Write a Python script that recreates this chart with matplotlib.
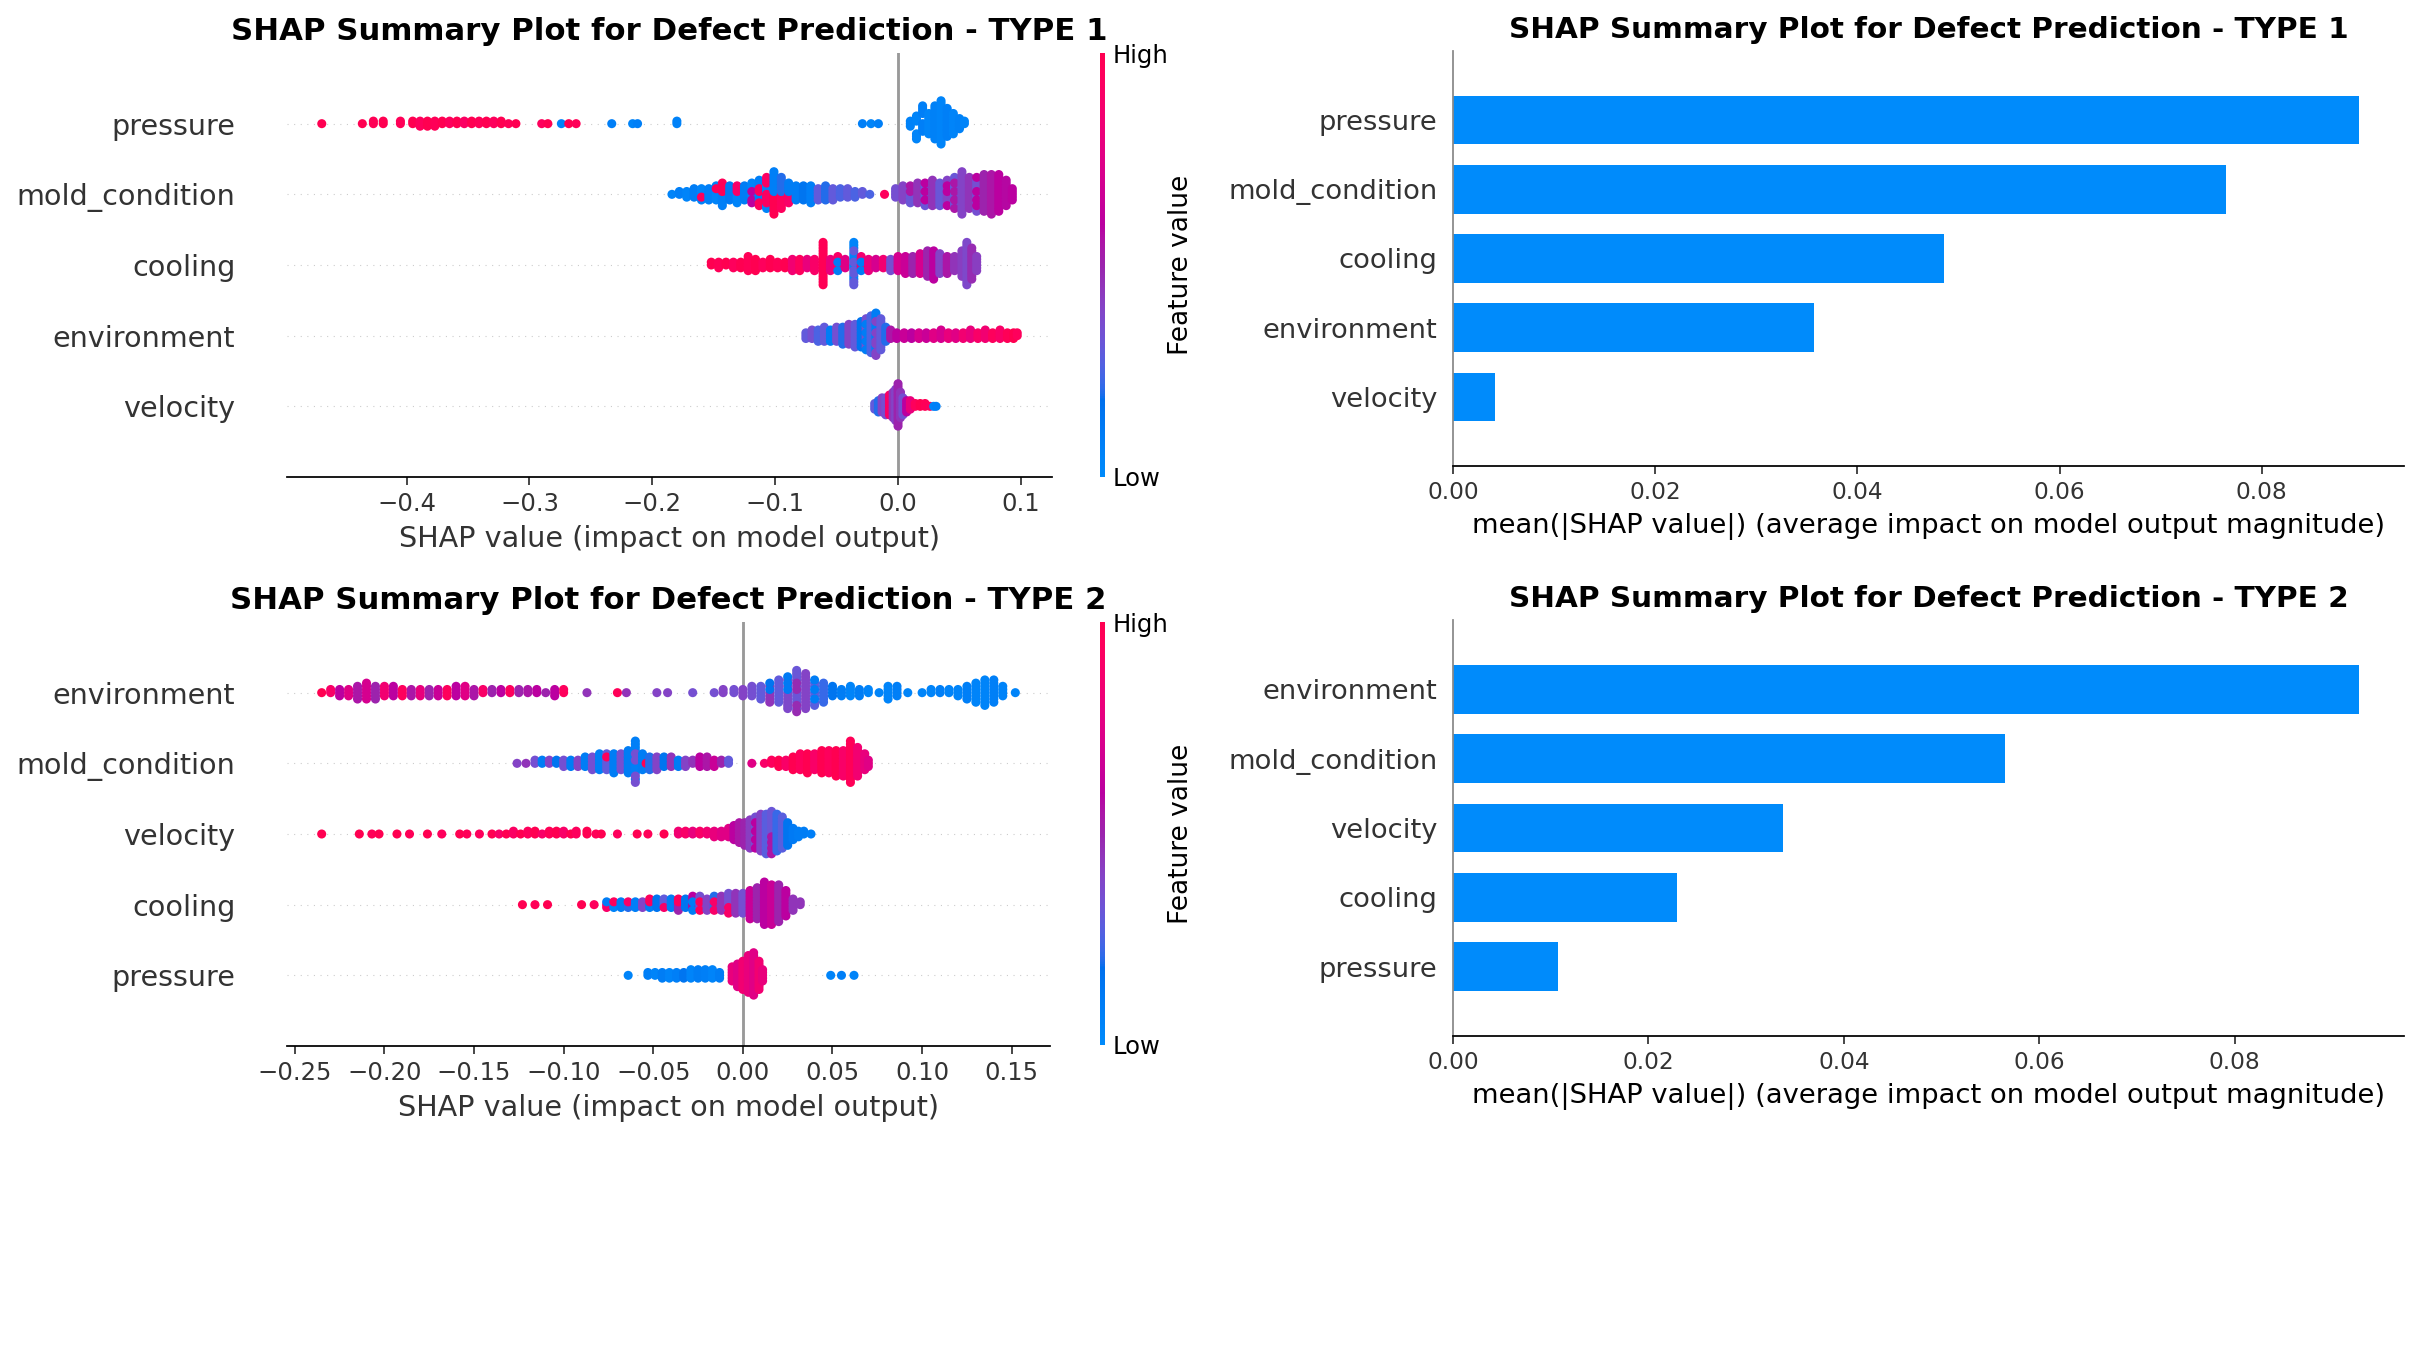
import numpy as np
import matplotlib
matplotlib.use("Agg")
import matplotlib.pyplot as plt
from matplotlib.colors import LinearSegmentedColormap, Normalize
from matplotlib.cm import ScalarMappable

# ---------------- data ----------------
# beeswarm rows: (shap value, number of samples, feature value 0=low..1=high)
t1_features = ["pressure", "mold_condition", "cooling", "environment", "velocity"]
t2_features = ["environment", "mold_condition", "velocity", "cooling", "pressure"]

t1_pressure = [(-0.469,1,1.0),(-0.436,1,1.0),(-0.427,2,0.98),(-0.419,2,1.0),(-0.405,2,0.97),
    (-0.395,2,1.0),(-0.389,3,0.95),(-0.383,3,1.0),(-0.377,3,0.97),(-0.371,2,1.0),
    (-0.365,2,0.95),(-0.359,2,1.0),(-0.353,2,0.92),(-0.347,2,1.0),(-0.341,2,0.97),
    (-0.335,2,1.0),(-0.329,2,0.95),(-0.323,2,1.0),(-0.317,1,0.97),(-0.311,1,1.0),
    (-0.290,1,0.95),(-0.285,1,1.0),(-0.274,1,0.05),(-0.268,1,1.0),(-0.262,1,0.97),
    (-0.233,1,0.08),(-0.216,1,0.05),(-0.212,1,0.08),(-0.180,2,0.06),
    (-0.029,1,0.08),(-0.022,1,0.05),(-0.016,1,0.08),
    (0.010,3,0.06),(0.015,6,0.05),(0.020,8,0.08),(0.025,9,0.04),(0.030,14,0.07),
    (0.035,18,0.05),(0.040,12,0.08),(0.045,9,0.05),(0.050,5,0.07),(0.054,2,0.05)]
t1_mold = [(-0.184,1,0.05),(-0.178,2,0.08),(-0.172,3,0.05),(-0.166,4,0.1),(-0.160,4,0.05),
    (-0.160,1,0.95),(-0.154,5,0.08),(-0.148,5,0.05),(-0.148,1,0.97),(-0.143,5,0.08),
    (-0.143,4,0.97),(-0.137,6,0.12),(-0.131,4,0.05),(-0.131,3,0.9),(-0.125,6,0.1),
    (-0.119,5,0.05),(-0.119,3,0.6),(-0.113,6,0.08),(-0.113,4,0.95),(-0.107,5,0.05),
    (-0.107,7,0.92),(-0.101,8,1.0),(-0.101,8,0.08),(-0.095,6,0.95),(-0.095,6,0.2),
    (-0.089,4,0.9),(-0.089,4,0.1),(-0.083,6,0.1),(-0.077,6,0.15),(-0.071,7,0.08),
    (-0.065,5,0.3),(-0.059,6,0.2),(-0.053,5,0.3),(-0.047,4,0.25),(-0.041,4,0.3),
    (-0.035,3,0.25),(-0.029,2,0.3),(-0.023,1,0.25),(-0.011,1,0.95),
    (-0.002,4,0.35),(0.004,6,0.4),(0.010,5,0.32),(0.010,2,0.55),(0.016,8,0.45),
    (0.022,6,0.32),(0.022,3,0.6),(0.028,10,0.45),(0.034,9,0.32),(0.040,7,0.4),
    (0.040,3,0.6),(0.046,8,0.32),(0.046,4,0.55),(0.052,16,0.4),(0.058,12,0.45),
    (0.064,9,0.35),(0.064,4,0.6),(0.070,14,0.5),(0.076,15,0.55),(0.082,14,0.6),
    (0.088,10,0.58),(0.093,5,0.6)]
t1_cooling = [(-0.152,2,1.0),(-0.146,3,0.97),(-0.140,2,1.0),(-0.134,3,0.95),(-0.128,3,1.0),
    (-0.122,6,0.97),(-0.116,5,1.0),(-0.110,3,0.95),(-0.104,4,1.0),(-0.098,3,0.97),
    (-0.092,3,1.0),(-0.086,5,0.85),(-0.080,5,0.95),(-0.074,4,0.8),(-0.068,5,0.9),
    (-0.061,16,0.98),(-0.055,5,0.8),(-0.049,4,0.9),(-0.049,2,0.1),(-0.043,4,0.75),
    (-0.036,10,0.05),(-0.036,6,0.3),(-0.030,4,0.85),(-0.030,2,0.1),(-0.024,5,0.8),
    (-0.018,4,0.7),(-0.012,4,0.85),(-0.006,5,0.35),(0.0,6,0.7),(0.006,7,0.65),
    (0.012,7,0.5),(0.018,8,0.7),(0.024,10,0.5),(0.029,11,0.6),(0.034,8,0.4),
    (0.040,7,0.55),(0.046,6,0.45),(0.052,10,0.42),(0.056,16,0.38),(0.060,12,0.48),
    (0.064,6,0.42)]
t1_environment = [(-0.075,3,0.3),(-0.070,4,0.35),(-0.065,5,0.25),(-0.060,6,0.3),(-0.055,5,0.1),
    (-0.050,6,0.35),(-0.045,7,0.2),(-0.040,8,0.4),(-0.035,9,0.3),(-0.030,10,0.15),
    (-0.026,8,0.35),(-0.026,4,0.1),(-0.022,14,0.25),(-0.018,10,0.1),(-0.018,6,0.4),
    (-0.014,12,0.3),(-0.010,6,0.2),(-0.006,4,0.55),(-0.001,3,0.6),(0.005,3,0.65),
    (0.011,3,0.6),(0.017,3,0.7),(0.023,3,0.65),(0.029,3,0.75),(0.035,4,0.7),
    (0.041,3,0.8),(0.047,3,0.75),(0.053,3,0.85),(0.059,4,0.8),(0.065,3,0.9),
    (0.071,4,0.85),(0.077,3,0.95),(0.083,4,0.9),(0.089,3,0.97),(0.094,3,1.0),
    (0.097,2,0.95)]
t1_velocity = [(-0.019,3,0.3),(-0.016,5,0.2),(-0.013,6,0.4),(-0.010,7,0.35),(-0.007,8,0.9),
    (-0.004,10,0.45),(-0.002,12,0.4),(0.0,16,0.5),(0.002,10,0.45),(0.004,7,0.35),
    (0.007,5,0.6),(0.010,4,0.8),(0.014,2,0.95),(0.018,2,1.0),(0.022,2,0.97),
    (0.026,1,0.95),(0.029,1,0.05),(0.031,1,0.08)]

t2_environment = [(-0.235,1,1.0),(-0.230,2,0.9),(-0.225,3,0.6),(-0.220,3,0.75),(-0.215,5,0.55),
    (-0.210,6,0.7),(-0.205,5,0.5),(-0.200,4,0.85),(-0.195,4,0.6),(-0.190,3,0.95),
    (-0.185,3,0.55),(-0.180,3,0.8),(-0.175,3,0.5),(-0.170,3,0.65),(-0.165,3,0.95),
    (-0.160,4,0.6),(-0.155,4,0.75),(-0.150,3,0.55),(-0.145,2,0.9),(-0.140,2,0.5),
    (-0.135,2,0.6),(-0.130,2,0.95),(-0.125,2,0.5),(-0.120,2,0.55),(-0.115,2,0.6),
    (-0.110,1,0.5),(-0.105,3,0.6),(-0.100,2,0.95),(-0.087,1,0.45),(-0.070,1,0.97),
    (-0.065,1,0.45),(-0.048,1,0.4),(-0.042,1,0.4),(-0.028,1,0.35),(-0.016,1,0.35),
    (-0.011,2,0.4),(-0.005,2,0.35),(0.000,3,0.4),(0.005,4,0.35),(0.010,5,0.3),
    (0.015,5,0.45),(0.015,2,0.15),(0.020,8,0.3),(0.025,8,0.38),(0.025,3,0.12),
    (0.030,10,0.32),(0.030,4,0.48),(0.035,12,0.4),(0.040,6,0.28),(0.040,3,0.1),
    (0.045,7,0.22),(0.050,4,0.15),(0.055,3,0.1),(0.060,4,0.05),(0.065,3,0.1),
    (0.070,2,0.05),(0.076,1,0.05),(0.081,5,0.05),(0.086,4,0.08),(0.092,1,0.05),
    (0.100,1,0.05),(0.105,2,0.05),(0.110,2,0.08),(0.115,2,0.05),(0.120,3,0.05),
    (0.125,5,0.08),(0.130,7,0.05),(0.135,9,0.05),(0.140,8,0.08),(0.145,4,0.05),
    (0.152,1,0.05)]
t2_mold = [(-0.126,1,0.4),(-0.121,1,0.45),(-0.116,2,0.35),(-0.112,2,0.1),(-0.108,2,0.4),
    (-0.104,2,0.15),(-0.100,3,0.35),(-0.096,3,0.1),(-0.092,3,0.4),(-0.088,4,0.1),
    (-0.084,5,0.35),(-0.080,6,0.08),(-0.076,5,0.3),(-0.076,1,0.95),(-0.072,7,0.1),
    (-0.068,6,0.35),(-0.064,8,0.1),(-0.060,10,0.08),(-0.060,4,0.35),(-0.056,6,0.1),
    (-0.054,1,1.0),(-0.052,5,0.2),(-0.048,5,0.4),(-0.044,4,0.15),(-0.040,4,0.45),
    (-0.036,3,0.1),(-0.032,3,0.4),(-0.028,2,0.45),(-0.024,4,0.6),(-0.020,4,0.55),
    (-0.016,3,0.65),(-0.012,2,0.5),(-0.008,2,0.3),(0.005,1,0.75),(0.012,1,0.9),
    (0.016,2,0.95),(0.020,3,1.0),(0.024,3,0.9),(0.028,5,1.0),(0.032,6,0.95),
    (0.036,7,1.0),(0.040,6,0.9),(0.044,8,1.0),(0.048,8,0.95),(0.052,9,1.0),
    (0.056,9,0.9),(0.060,14,0.97),(0.064,10,0.85),(0.068,6,0.8),(0.070,3,0.75)]
t2_velocity = [(-0.235,1,1.0),(-0.214,1,1.0),(-0.207,1,0.97),(-0.203,1,1.0),(-0.193,1,1.0),
    (-0.186,1,0.97),(-0.176,1,1.0),(-0.168,1,0.95),(-0.158,1,1.0),(-0.154,1,0.97),
    (-0.147,1,0.95),(-0.140,1,1.0),(-0.136,1,0.9),(-0.132,1,1.0),(-0.128,2,0.92),
    (-0.124,1,1.0),(-0.120,2,0.95),(-0.116,2,1.0),(-0.112,1,0.9),(-0.108,2,0.97),
    (-0.104,2,1.0),(-0.100,2,0.9),(-0.096,1,1.0),(-0.093,2,0.95),(-0.087,2,1.0),
    (-0.082,1,0.97),(-0.079,1,1.0),(-0.070,1,0.95),(-0.059,1,1.0),(-0.053,1,0.97),
    (-0.044,1,1.0),(-0.036,2,0.85),(-0.032,2,0.9),(-0.028,2,0.8),(-0.024,2,0.9),
    (-0.020,2,0.85),(-0.016,3,0.8),(-0.012,3,0.75),(-0.008,4,0.75),(-0.005,6,0.6),
    (-0.002,8,0.55),(0.001,9,0.5),(0.004,11,0.42),(0.007,8,0.35),(0.007,4,0.6),
    (0.010,14,0.4),(0.013,15,0.28),(0.016,12,0.32),(0.016,4,0.55),(0.019,14,0.22),
    (0.022,12,0.28),(0.025,9,0.15),(0.028,5,0.12),(0.031,3,0.1),(0.034,2,0.1),
    (0.038,1,0.08)]
t2_cooling = [(-0.123,1,1.0),(-0.116,1,0.97),(-0.109,1,1.0),(-0.090,1,1.0),(-0.083,1,0.95),
    (-0.076,2,0.9),(-0.076,1,0.1),(-0.072,2,0.05),(-0.072,1,0.95),(-0.068,3,0.1),
    (-0.064,2,0.2),(-0.064,1,0.9),(-0.060,3,0.08),(-0.056,3,0.4),(-0.052,2,0.1),
    (-0.052,2,0.95),(-0.048,4,0.15),(-0.044,3,0.3),(-0.044,1,0.9),(-0.040,4,0.1),
    (-0.036,3,0.5),(-0.036,2,0.95),(-0.032,4,0.15),(-0.028,4,0.6),(-0.028,2,0.1),
    (-0.024,4,0.35),(-0.024,2,0.95),(-0.020,5,0.4),(-0.016,4,0.2),(-0.016,2,0.9),
    (-0.012,6,0.45),(-0.008,6,0.35),(-0.008,2,0.9),(-0.004,8,0.45),(0.0,8,0.35),
    (0.004,11,0.65),(0.008,12,0.5),(0.012,16,0.6),(0.016,15,0.65),(0.020,14,0.5),
    (0.024,10,0.6),(0.028,5,0.45),(0.032,2,0.45)]
t2_pressure = [(-0.064,1,0.05),(-0.053,2,0.08),(-0.049,2,0.05),(-0.045,3,0.1),(-0.041,3,0.05),
    (-0.037,3,0.08),(-0.033,3,0.15),(-0.029,4,0.05),(-0.025,4,0.1),(-0.021,4,0.08),
    (-0.017,4,0.05),(-0.013,3,0.1),(-0.006,6,0.8),(-0.003,9,0.75),(0.0,11,0.85),
    (0.003,14,0.8),(0.006,16,0.75),(0.009,11,0.85),(0.011,5,0.8),
    (0.049,1,0.05),(0.055,1,0.08),(0.062,1,0.05)]

t1_rows = [t1_pressure, t1_mold, t1_cooling, t1_environment, t1_velocity]
t2_rows = [t2_environment, t2_mold, t2_velocity, t2_cooling, t2_pressure]

t1_bar_values = [0.0896, 0.0765, 0.0486, 0.0357, 0.0042]
t2_bar_values = [0.0927, 0.0565, 0.0338, 0.0229, 0.0107]

titles = ["SHAP Summary Plot for Defect Prediction - TYPE 1",
          "SHAP Summary Plot for Defect Prediction - TYPE 2"]

# ---------------- style ----------------
AXIS_COLOR = "#333333"
BAR_COLOR = "#008bfb"


def lch2rgb(l, c, h):
    a, b = c * np.cos(h), c * np.sin(h)
    fy = (l + 16) / 116.0
    fx = fy + a / 500.0
    fz = fy - b / 200.0
    def finv(t):
        return t ** 3 if t ** 3 > 0.008856 else (t - 16 / 116.0) / 7.787
    X, Y, Z = 0.95047 * finv(fx), finv(fy), 1.08883 * finv(fz)
    M = np.array([[3.2406, -1.5372, -0.4986],
                  [-0.9689, 1.8758, 0.0415],
                  [0.0557, -0.2040, 1.0570]])
    lin = M @ np.array([X, Y, Z])
    lin = np.clip(lin, 0, 1)
    rgb = np.where(lin <= 0.0031308, 12.92 * lin, 1.055 * lin ** (1 / 2.4) - 0.055)
    return np.clip(rgb, 0, 1)


nsteps = 100
l_vals = list(np.linspace(54., 40., nsteps // 2)) + list(np.linspace(40., 54., nsteps // 2))
c_vals = np.linspace(70., 90., nsteps)
h_vals = np.linspace(4.6588, 0.35470565 + 2 * np.pi, nsteps)
red_blue = LinearSegmentedColormap.from_list(
    "red_blue", [lch2rgb(l, c, h) for l, c, h in zip(l_vals, c_vals, h_vals)])


def expand(row):
    xs, cs, fr = [], [], []
    for v, n, f in row:
        for k in range(n):
            xs.append(v); cs.append(f); fr.append((k + 0.5) / n)
    return np.array(xs), np.array(cs), np.array(fr)


def swarm_offsets(xs, frac, row_height=0.4, nbins=100):
    quant = np.round(nbins * (xs - xs.min()) / (xs.max() - xs.min() + 1e-8))
    inds = np.lexsort((frac, quant))
    ys = np.zeros(len(xs))
    layer, last = 0, None
    for ind in inds:
        if quant[ind] != last:
            layer = 0
        ys[ind] = np.ceil(layer / 2) * ((layer % 2) * 2 - 1)
        layer += 1
        last = quant[ind]
    ys *= 0.9 * (row_height / np.max(ys + 1))
    return ys


W, H = 2419, 1361
DPI = 158.4
fig = plt.figure(figsize=(W / DPI, H / DPI), dpi=DPI)


def px_axes(x0, y0, x1, y1):
    return fig.add_axes([x0 / W, 1 - y1 / H, (x1 - x0) / W, (y1 - y0) / H])


def beeswarm(ax, cax, feats, rows, title):
    n = len(feats)
    for i, (name, row) in enumerate(zip(feats, rows)):
        pos = n - 1 - i
        ax.axhline(y=pos, color="#cccccc", lw=0.5, dashes=(1, 5), zorder=-1)
        xs, cs, fr = expand(row)
        ys = swarm_offsets(xs, fr)
        ax.scatter(xs, pos + ys, c=cs, cmap=red_blue, vmin=0, vmax=1, s=17,
                   linewidth=0, alpha=1, zorder=3)
    ax.axvline(x=0, color="#999999", lw=1.3, zorder=-1)
    ax.set_ylim(-1, n)
    ax.set_yticks(range(n))
    ax.set_yticklabels(list(reversed(feats)), fontsize=13)
    ax.yaxis.set_ticks_position("none")
    ax.tick_params("y", length=20, width=0.5, which="major", labelcolor=AXIS_COLOR)
    ax.xaxis.set_ticks_position("bottom")
    ax.tick_params("x", labelsize=11, color=AXIS_COLOR, labelcolor=AXIS_COLOR)
    for s in ("right", "top", "left"):
        ax.spines[s].set_visible(False)
    ax.set_xlabel("SHAP value (impact on model output)", fontsize=13, color=AXIS_COLOR)
    ax.set_title(title, fontsize=14, fontweight="bold")
    sm = ScalarMappable(norm=Normalize(0, 1), cmap=red_blue)
    sm.set_array([0, 1])
    cb = fig.colorbar(sm, cax=cax, ticks=[0, 1])
    cb.set_ticklabels(["Low", "High"])
    cb.set_label("Feature value", size=12, labelpad=0)
    cb.ax.tick_params(labelsize=11, length=0)
    cb.outline.set_visible(False)


def barplot(ax, feats, vals, title, k=0.96):
    n = len(feats)
    ypos = np.arange(n)[::-1]
    ax.barh(ypos, vals, 0.7, align="center", color=BAR_COLOR)
    ax.set_yticks(ypos)
    ax.set_yticklabels(feats, fontsize=13 * k)
    ax.set_ylim(-1, n)
    ax.yaxis.set_ticks_position("none")
    ax.xaxis.set_ticks_position("bottom")
    ax.tick_params("y", labelcolor=AXIS_COLOR)
    ax.tick_params("x", labelsize=11 * k, color=AXIS_COLOR, labelcolor=AXIS_COLOR)
    ax.spines["right"].set_visible(False)
    ax.spines["top"].set_visible(False)
    ax.spines["left"].set_color("#888888")
    ax.set_xlabel("mean(|SHAP value|) (average impact on model output magnitude)",
                  fontsize=13 * k)
    ax.set_title(title, fontsize=14 * k, fontweight="bold")


ax1 = px_axes(287, 53, 1052, 477)
cax1 = px_axes(1100, 53, 1104.5, 477)
ax2 = px_axes(287, 622, 1050, 1046)
cax2 = px_axes(1100, 622, 1104.5, 1045)
ax3 = px_axes(1453, 51, 2404, 466)
ax4 = px_axes(1453, 620, 2404, 1036)

beeswarm(ax1, cax1, t1_features, t1_rows, titles[0])
beeswarm(ax2, cax2, t2_features, t2_rows, titles[1])
barplot(ax3, t1_features, t1_bar_values, titles[0])
barplot(ax4, t2_features, t2_bar_values, titles[1])

fig.savefig("out.png", dpi=DPI, facecolor="white")
